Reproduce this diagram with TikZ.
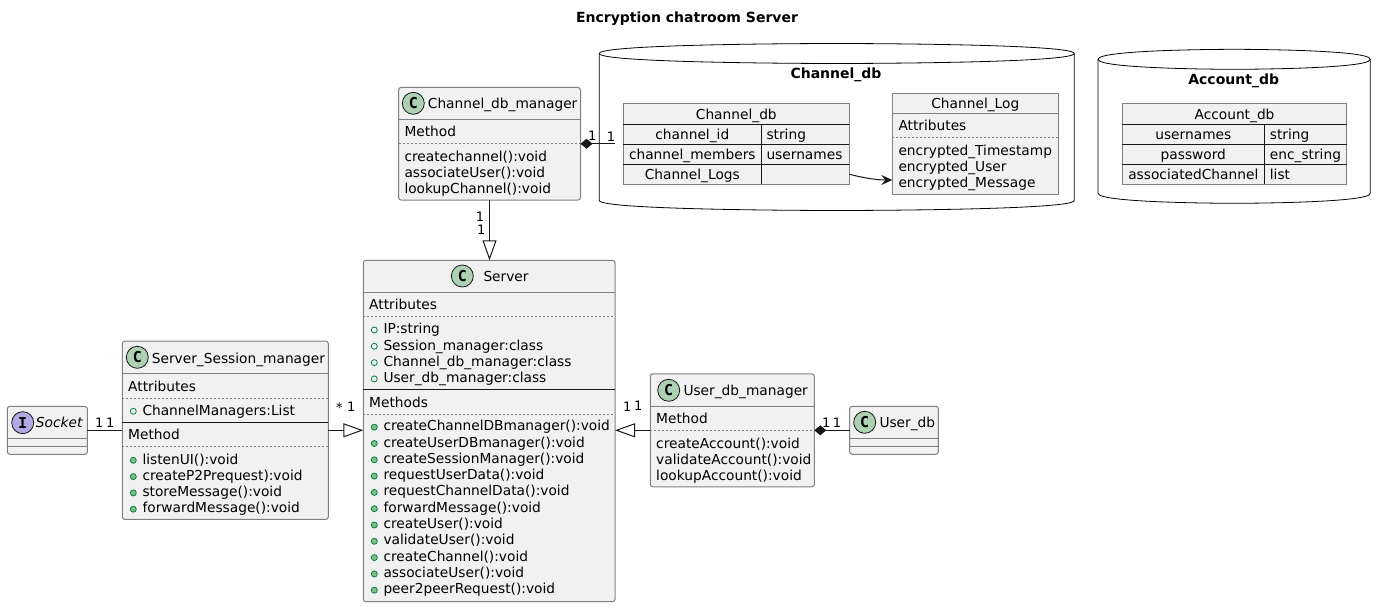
\documentclass[tikz,border=0pt]{standalone}
\usepackage{fontspec}
\setmainfont{DejaVu Sans}
\newfontfamily\glyphfont{DejaVu Sans Mono}
\usetikzlibrary{arrows.meta}
\definecolor{boxfill}{HTML}{F1F1F1}
\definecolor{boxgray}{HTML}{808080}
\definecolor{linedark}{HTML}{181818}
\definecolor{classgreen}{HTML}{ADD1B2}
\definecolor{ifacepurple}{HTML}{B4A7E5}
\definecolor{dotborder}{HTML}{038048}
\definecolor{dotfill}{HTML}{84BE84}

\begin{document}
\begin{tikzpicture}[
    x=1pt, y=-1pt,
    classbox/.style={rectangle, rounded corners=2.5pt, draw=boxgray, fill=boxfill, line width=1pt, inner sep=0pt, outer sep=0pt},
    tablebox/.style={rectangle, draw=boxgray, fill=boxfill, line width=1pt, inner sep=0pt, outer sep=0pt},
    txt/.style={anchor=base west, inner sep=0pt, font=\fontsize{13.75}{16}\selectfont},
    ctxt/.style={anchor=base, inner sep=0pt, font=\fontsize{13.75}{16}\selectfont},
    dbtitle/.style={anchor=base, inner sep=0pt, font=\fontsize{14}{16}\selectfont\bfseries},
    mult/.style={inner sep=0pt, font=\fontsize{13}{15}\selectfont},
    classmark/.style={circle, draw=linedark, fill=classgreen, line width=0.8pt, minimum size=22pt, inner sep=0pt, font=\fontsize{15}{16}\selectfont\glyphfont\bfseries},
    ifacemark/.style={classmark, fill=ifacepurple},
    fielddot/.style={circle, draw=dotborder, fill=none, line width=0.8pt, minimum size=6pt, inner sep=0pt},
    methoddot/.style={circle, draw=dotborder, fill=dotfill, line width=0.8pt, minimum size=6pt, inner sep=0pt},
    headsep/.style={draw=boxgray, line width=1pt},
    solidsep/.style={draw=linedark, line width=1pt},
    dotsep/.style={draw=boxgray, line width=0.8pt, dash pattern=on 2pt off 2pt},
    dbshape/.style={draw=black, line width=0.8pt},
    assoc/.style={draw=linedark, line width=1pt},
    extends/.style={assoc, -{Triangle[open, length=20pt, width=14pt]}},
    owns/.style={assoc, {Diamond[length=12pt, width=10pt]}-},
    follow/.style={assoc, -{Stealth[length=11pt, width=10pt, inset=4pt]}}
]
    \useasboundingbox (0,0) rectangle (1386,607);

    % Title
    \node[dbtitle] (title) at (687,23) {Encryption chatroom Server};

    % Channel_db database
    \draw[dbshape] (599.3,53.5) .. controls (599.3,43.5) and (836.8,43.5) .. (836.8,43.5)
        .. controls (836.8,43.5) and (1074.3,43.5) .. (1074.3,53.5) -- (1074.3,200.5)
        .. controls (1074.3,210.5) and (836.8,210.5) .. (836.8,210.5)
        .. controls (836.8,210.5) and (599.3,210.5) .. (599.3,200.5) -- cycle;
    \draw[dbshape] (599.3,53.5) .. controls (599.3,63.5) and (836.8,63.5) .. (836.8,63.5)
        .. controls (836.8,63.5) and (1074.3,63.5) .. (1074.3,53.5);
    \node[dbtitle] (chandbtitle) at (836,78.3) {Channel\_db};

    % Channel_db table
    \node[tablebox, minimum width=226pt, minimum height=81pt] (chantable) at (736.3,143.8) {};
    \node[ctxt] (chantabletitle) at (736.3,119.3) {Channel\_db};
    \draw[solidsep] (623.3,124.3) -- (849.3,124.3);
    \draw[solidsep] (623.3,144.3) -- (849.3,144.3);
    \draw[solidsep] (623.3,164.3) -- (849.3,164.3);
    \draw[solidsep] (761.3,124.3) -- (761.3,184.3);
    \node[ctxt] (chanid) at (692.3,139.3) {channel\_id};
    \node[txt] (chanidtype) at (766.3,139.3) {string};
    \node[ctxt] (chanmem) at (692.3,159.3) {channel\_members};
    \node[txt] (chanmemtype) at (766.3,159.3) {usernames};
    \node[ctxt] (chanlogs) at (692.3,179.7) {Channel\_Logs};
    \node[inner sep=0pt, minimum width=88pt, minimum height=20pt] (logcell) at (805.3,174.3) {};

    % Channel_Log table
    \node[tablebox, minimum width=166pt, minimum height=101pt] (chanlog) at (975.3,143.8) {};
    \node[ctxt] (chanlogtitle) at (975.3,108.3) {Channel\_Log};
    \draw[headsep] (892.3,113.3) -- (1058.3,113.3);
    \node[txt] (chanlogattr) at (898.3,131) {Attributes};
    \draw[dotsep] (892.3,137.3) -- (1058.3,137.3);
    \foreach \entry [count=\i] in {encrypted\_Timestamp, encrypted\_User, encrypted\_Message}
        \node[txt] (chanlog\i) at (898.3,{155.7+15.8*(\i-1)}) {\entry};
    \coordinate (logtip) at (892.3,180);

    % Account_db database
    \draw[dbshape] (1098,59.3) .. controls (1098,49.3) and (1234.2,49.3) .. (1234.2,49.3)
        .. controls (1234.2,49.3) and (1370.3,49.3) .. (1370.3,59.3) -- (1370.3,193.3)
        .. controls (1370.3,203.3) and (1234.2,203.3) .. (1234.2,203.3)
        .. controls (1234.2,203.3) and (1098,203.3) .. (1098,193.3) -- cycle;
    \draw[dbshape] (1098,59.3) .. controls (1098,69.3) and (1234.2,69.3) .. (1234.2,69.3)
        .. controls (1234.2,69.3) and (1370.3,69.3) .. (1370.3,59.3);
    \node[dbtitle] (accdbtitle) at (1233.7,85) {Account\_db};

    % Account_db table
    \node[tablebox, minimum width=224.4pt, minimum height=81pt] (acctable) at (1234.5,143.8) {};
    \node[ctxt] (acctabletitle) at (1234.5,119.3) {Account\_db};
    \draw[solidsep] (1122.3,124.3) -- (1346.7,124.3);
    \draw[solidsep] (1122.3,144.3) -- (1346.7,144.3);
    \draw[solidsep] (1122.3,164.3) -- (1346.7,164.3);
    \draw[solidsep] (1264.3,124.3) -- (1264.3,184.3);
    \node[ctxt] (accname) at (1193.3,139.3) {usernames};
    \node[txt] (accnametype) at (1269.7,139.3) {string};
    \node[ctxt] (accpass) at (1193.3,159.3) {password};
    \node[txt] (accpasstype) at (1269.7,159.3) {enc\_string};
    \node[ctxt] (accchan) at (1193.3,179.7) {associatedChannel};
    \node[txt] (accchantype) at (1269.7,179.7) {list};

    % Channel_db_manager
    \node[classbox, minimum width=182pt, minimum height=112.5pt] (chanmgr) at (489.5,143.75) {};
    \node[classmark] (chanmgrmark) at (413.3,103.3) {C};
    \node[txt] (chanmgrtitle) at (427.7,108.3) {Channel\_db\_manager};
    \draw[headsep] (398.5,119.5) -- (580.5,119.5);
    \node[txt] (chanmgrhead) at (404.3,136) {Method};
    \draw[dotsep] (398.5,143.5) -- (580.5,143.5);
    \foreach \entry [count=\i] in {createchannel():void, associateUser():void, lookupChannel():void}
        \node[txt] (chanmgr\i) at (404.3,{161+16.2*(\i-1)}) {\entry};

    % Server
    \node[classbox, minimum width=251.7pt, minimum height=341.4pt] (server) at (489.15,431) {};
    \node[classmark] (servermark) at (462.3,276) {C};
    \node[txt] (servertitle) at (483.3,281) {Server};
    \draw[headsep] (363.3,292.3) -- (615,292.3);
    \node[txt] (serverattr) at (369,309) {Attributes};
    \draw[dotsep] (363.3,316.3) -- (615,316.3);
    \foreach \entry [count=\i] in {IP:string, Session\_manager:class, Channel\_db\_manager:class, User\_db\_manager:class} {
        \node[fielddot] (serverfd\i) at (374.3,{330+16.3*(\i-1)}) {};
        \node[txt] (serverf\i) at (383.3,{333.8+16.3*(\i-1)}) {\entry};
    }
    \draw[solidsep] (363.3,389.3) -- (615,389.3);
    \node[txt] (servermeth) at (369,407) {Methods};
    \draw[dotsep] (363.3,414.3) -- (615,414.3);
    \foreach \entry [count=\i] in {createChannelDBmanager():void, createUserDBmanager():void, createSessionManager():void, requestUserData():void, requestChannelData():void, forwardMessage():void, createUser():void, validateUser():void, createChannel():void, associateUser():void, peer2peerRequest():void} {
        \node[methoddot] (servermd\i) at (374.3,{427.2+16.3*(\i-1)}) {};
        \node[txt] (serverm\i) at (383.3,{430.7+16.3*(\i-1)}) {\entry};
    }

    % Server_Session_manager
    \node[classbox, minimum width=206pt, minimum height=178.3pt] (ssm) at (225.3,430.3) {};
    \node[classmark] (ssmmark) at (137.3,357.3) {C};
    \node[txt] (ssmtitle) at (151.7,363) {Server\_Session\_manager};
    \draw[headsep] (122.3,373.3) -- (328.3,373.3);
    \node[txt] (ssmattr) at (128,391) {Attributes};
    \draw[dotsep] (122.3,398.3) -- (328.3,398.3);
    \node[fielddot] (ssmfd) at (133.3,411.3) {};
    \node[txt] (ssmf) at (142.3,415) {ChannelManagers:List};
    \draw[solidsep] (122.3,422.3) -- (328.3,422.3);
    \node[txt] (ssmmeth) at (128,439.3) {Method};
    \draw[dotsep] (122.3,446.3) -- (328.3,446.3);
    \foreach \entry [count=\i] in {listenUI():void, createP2Prequest):void, storeMessage():void, forwardMessage():void} {
        \node[methoddot] (ssmmd\i) at (133.3,{460.3+16.3*(\i-1)}) {};
        \node[txt] (ssmm\i) at (142.3,{464+16.3*(\i-1)}) {\entry};
    }

    % Socket
    \node[classbox, minimum width=80pt, minimum height=48pt] (socket) at (47.3,430.3) {};
    \node[ifacemark] (socketmark) at (22.7,422.7) {I};
    \node[txt, font=\fontsize{13.75}{16}\selectfont\itshape] (sockettitle) at (35.7,427.7) {Socket};
    \draw[headsep] (7.3,438.3) -- (87.3,438.3);
    \draw[headsep] (7.3,446.3) -- (87.3,446.3);

    % User_db_manager
    \node[classbox, minimum width=164pt, minimum height=113pt] (usermgr) at (732.3,430.3) {};
    \node[classmark] (usermgrmark) at (668.7,390.3) {C};
    \node[txt] (usermgrtitle) at (683.3,395.7) {User\_db\_manager};
    \draw[headsep] (650.3,406.7) -- (814.3,406.7);
    \node[txt] (usermgrhead) at (656,423.3) {Method};
    \draw[dotsep] (650.3,430.3) -- (814.3,430.3);
    \foreach \entry [count=\i] in {createAccount():void, validateAccount():void, lookupAccount():void}
        \node[txt] (usermgr\i) at (656,{448+16.2*(\i-1)}) {\entry};

    % User_db
    \node[classbox, minimum width=88.6pt, minimum height=48pt] (userdb) at (894,430.3) {};
    \node[classmark] (userdbmark) at (864.7,422.3) {C};
    \node[txt] (userdbtitle) at (879.3,427.7) {User\_db};
    \draw[headsep] (849.7,438.3) -- (938.3,438.3);
    \draw[headsep] (849.7,446.3) -- (938.3,446.3);

    % Connectors
    \coordinate (chanlink) at (615,143.75);
    \draw[owns] (chanmgr.east) -- (chanlink);
    \draw[extends] (chanmgr.south) -- (chanmgr.south |- server.north);
    \draw[follow] (logcell.east) .. controls (866,178.5) and (878,180) .. (logtip);
    \draw[assoc] (socket.east) -- (ssm.west);
    \draw[extends] (ssm.east) -- (ssm.east -| server.west);
    \draw[extends] (usermgr.west) -- (usermgr.west -| server.east);
    \draw[owns] (usermgr.east) -- (userdb.west);

    % Multiplicities
    \node[mult] (m1) at (592.3,136) {1};
    \node[mult] (m2) at (611,136.5) {1};
    \node[mult] (m3) at (480,216.7) {1};
    \node[mult] (m4) at (481.3,230) {1};
    \node[mult] (m5) at (99.3,422.7) {1};
    \node[mult] (m6) at (110.3,422.7) {1};
    \node[mult] (m7) at (339.3,408) {*};
    \node[mult] (m8) at (351.3,407) {1};
    \node[mult] (m9) at (627.3,407) {1};
    \node[mult] (m10) at (638.3,406) {1};
    \node[mult] (m11) at (826.3,422.7) {1};
    \node[mult] (m12) at (837,422.7) {1};

\end{tikzpicture}
\end{document}
